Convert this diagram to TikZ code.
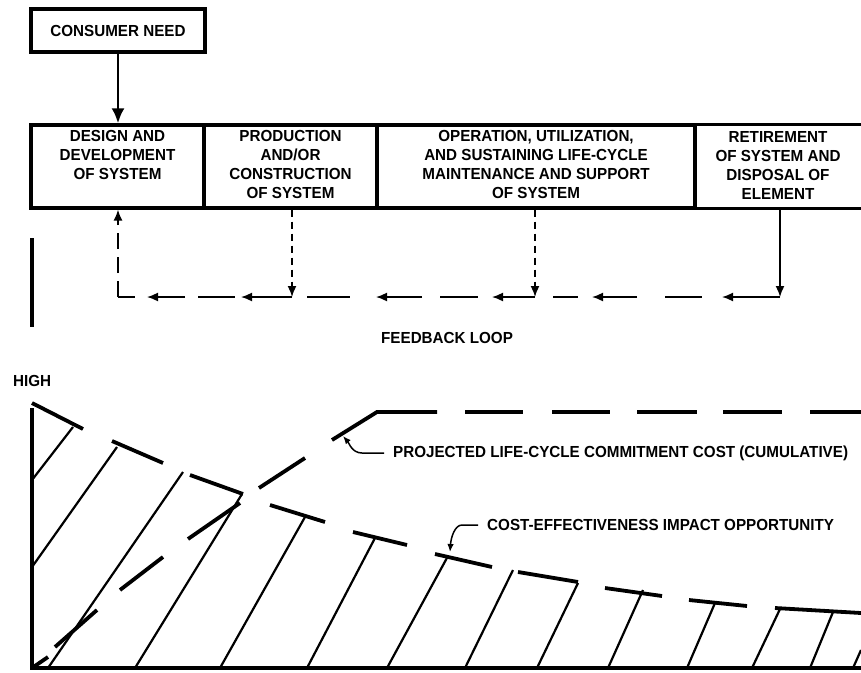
\documentclass[tikz,border=0pt]{standalone}
\usepackage{fontspec}
\setmainfont{Liberation Sans}[FakeStretch=0.95]
\usetikzlibrary{arrows.meta}
\begin{document}
\begin{tikzpicture}[x=1pt,y=-1pt,
  lbl/.style={font=\fontsize{16}{19}\selectfont\bfseries, inner sep=0pt, align=center},
  boxline/.style={line width=3.2pt},
  cellbox/.style={draw, line width=3.2pt, rectangle, inner sep=0pt, minimum height=83pt},
  bigarrow/.style={line width=2.8pt, -{Latex[length=15pt,width=13pt]}},
  fbtip/.style={-{Latex[length=11pt,width=9pt]}},
  fbseg/.style={line width=1.6pt},
  fbdash/.style={line width=1.6pt, dash pattern=on 16pt off 8pt},
  fbdot/.style={line width=1.6pt, dash pattern=on 7pt off 5pt},
  axis/.style={line width=3.4pt},
  curve/.style={line width=3.8pt},
  hatch/.style={line width=2.2pt},
  leader/.style={line width=1.5pt, -{Latex[length=8pt,width=6.5pt]}}]
\useasboundingbox (0,0) rectangle (861,672);
\fill[white] (0,0) rectangle (861,672);

% consumer need
\node[draw, boxline, rectangle, minimum width=174pt, minimum height=43pt, lbl] (consumer) at (118,30.5) {CONSUMER NEED};

% life-cycle cells
\node[cellbox, minimum width=173pt] (design) at (117.5,166.5) {};
\node[cellbox, minimum width=173pt] (prod) at (290.5,166.5) {};
\node[cellbox, minimum width=318pt] (oper) at (536,166.5) {};
\node[rectangle, inner sep=0pt, minimum width=166pt, minimum height=83pt] (retire) at (778,166.5) {};
\draw[boxline] (retire.north west) -- (retire.north east);
\draw[boxline] (retire.south west) -- (retire.south east);

\node[lbl, anchor=north] (t1) at ([yshift=-7pt]design.north) {DESIGN AND\\DEVELOPMENT\\OF SYSTEM};
\node[lbl, anchor=north] (t2) at ([yshift=-7pt]prod.north) {PRODUCTION\\AND/OR\\CONSTRUCTION\\OF SYSTEM};
\node[lbl, anchor=north] (t3) at ([yshift=-7pt]oper.north) {OPERATION, UTILIZATION,\\AND SUSTAINING LIFE-CYCLE\\MAINTENANCE AND SUPPORT\\OF SYSTEM};
\node[lbl, anchor=north] (t4) at ([yshift=-6pt]retire.north) {RETIREMENT\\OF SYSTEM AND\\DISPOSAL OF\\ELEMENT};

\draw[bigarrow] (consumer.south) -- (consumer.south |- design.north);

% feedback loop
\coordinate (c0) at (118,297);
\coordinate (cp) at (292,297);
\coordinate (co) at (535,297);
\coordinate (cr) at (780,297);
\draw[fbdash, fbtip] (c0) -- (c0 |- design.south);
\draw[fbdot, fbtip] (cp |- prod.south) -- (cp);
\draw[fbdot, fbtip] (co |- oper.south) -- (co);
\draw[fbseg, fbtip] (cr |- retire.south) -- (cr);

\draw[fbseg] (118,297) -- (135,297);
\draw[fbseg, fbtip] (185,297) -- (147,297);
\draw[fbseg] (198,297) -- (235,297);
\draw[fbseg, fbtip] (cp) -- (241,297);
\draw[fbseg] (307,297) -- (350,297);
\draw[fbseg, fbtip] (422,297) -- (376,297);
\draw[fbseg] (440,297) -- (478,297);
\draw[fbseg, fbtip] (co) -- (492,297);
\draw[fbseg] (553,297) -- (578,297);
\draw[fbseg, fbtip] (637,297) -- (592,297);
\draw[fbseg] (665,297) -- (702,297);
\draw[fbseg, fbtip] (cr) -- (722,297);

\draw[axis] (32,238) -- (32,327);
\node[lbl, anchor=west] (fb) at (381,338) {FEEDBACK LOOP};
\node[lbl, anchor=west] (high) at (13,381) {HIGH};

% chart axes
\draw[axis] (32,408) -- (32,668) -- (861,668);

% cost-effectiveness curve (dashed)
\draw[curve] (32,403) -- (83,429);
\draw[curve] (112,441) -- (163,463);
\draw[curve] (190,475) -- (243,494);
\draw[curve] (270,505) -- (325,522);
\draw[curve] (353,532) -- (407,545);
\draw[curve] (435,554) -- (492,567);
\draw[curve] (518,572) -- (578,582);
\draw[curve] (605,588) -- (662,596);
\draw[curve] (689,600) -- (747,606);
\draw[curve] (775,608) -- (861,613);

% hatch lines
\draw[hatch] (32,480) -- (73,427);
\draw[hatch] (32,567) -- (117,447);
\draw[hatch] (48,668) -- (183,472);
\draw[hatch] (135,668) -- (242,494);
\draw[hatch] (220,668) -- (305,517);
\draw[hatch] (307,668) -- (375,538);
\draw[hatch] (387,668) -- (448,556);
\draw[hatch] (465,668) -- (513,570);
\draw[hatch] (537,668) -- (578,583);
\draw[hatch] (608,668) -- (643,590);
\draw[hatch] (687,668) -- (715,603);
\draw[hatch] (752,668) -- (780,609);
\draw[hatch] (810,668) -- (833,612);
\draw[hatch] (853,668) -- (861,650);

% projected life-cycle commitment cost (dashed)
\draw[curve] (32,668) -- (48,657);
\draw[curve] (55,647) -- (97,610);
\draw[curve] (120,590) -- (163,557);
\draw[curve] (188,539) -- (240,503);
\draw[curve] (259,488) -- (305,458);
\draw[curve] (332,440) -- (377,412) -- (437,412);
\draw[curve] (465,412) -- (523,412);
\draw[curve] (552,412) -- (610,412);
\draw[curve] (637,412) -- (697,412);
\draw[curve] (723,412) -- (782,412);
\draw[curve] (810,412) -- (861,412);

% labels with leaders
\node[lbl, anchor=west] (projtxt) at (393,453) {PROJECTED LIFE-CYCLE COMMITMENT COST (CUMULATIVE)};
\node[lbl, anchor=west] (costtxt) at (487,525) {COST-EFFECTIVENESS IMPACT OPPORTUNITY};
\draw[leader] ([xshift=-9pt]projtxt.west) -- (362,453) .. controls (352,453) and (349,443) .. (343,436);
\draw[leader] ([xshift=-9pt]costtxt.west) -- (462,525) .. controls (455,525) and (451,537) .. (450,552);
\end{tikzpicture}
\end{document}
